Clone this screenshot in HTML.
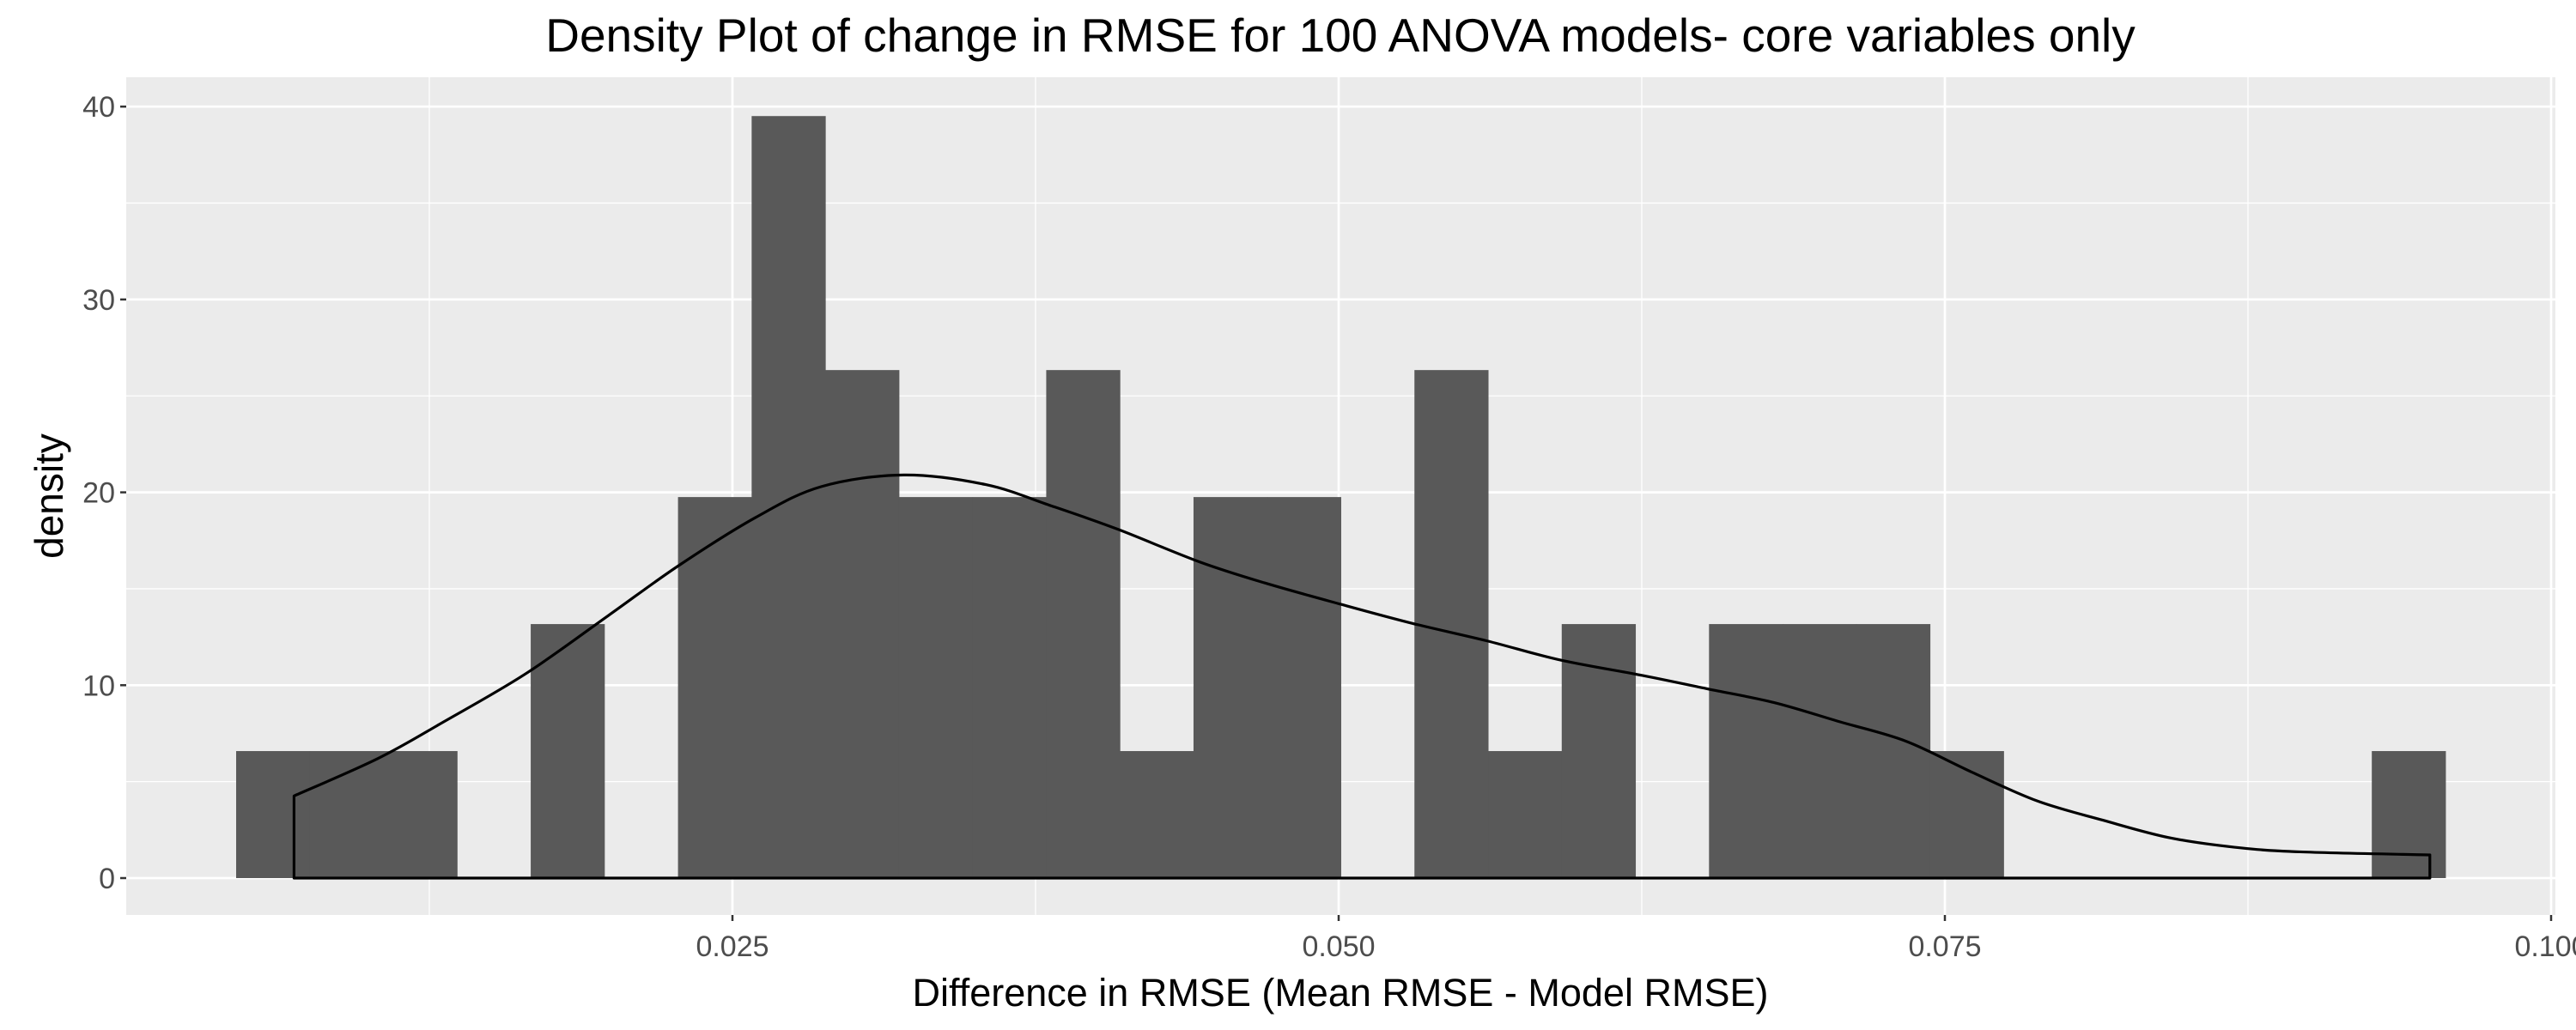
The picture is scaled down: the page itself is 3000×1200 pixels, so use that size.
<!DOCTYPE html>
<html><head><meta charset="utf-8"><style>
html,body{margin:0;padding:0;background:#fff;}
svg{display:block;font-family:"Liberation Sans",Arial,sans-serif;}
</style></head><body>
<svg id="chart" width="3000" height="1200" viewBox="0 0 3000 1200">
<rect width="3000" height="1200" fill="#fff"/>
<text x="1561" y="60" text-anchor="middle" font-size="55" fill="#000">Density Plot of change in RMSE for 100 ANOVA models- core variables only</text>
<rect x="147" y="90" width="2829" height="976" fill="#ebebeb"/>
<g id="grid"></g>
<g id="bars"></g>
<g id="curve"></g>
<g id="axes"></g>
<text x="1561" y="1172" text-anchor="middle" font-size="45" fill="#000">Difference in RMSE (Mean RMSE - Model RMSE)</text>
<text transform="translate(73,578) rotate(-90)" text-anchor="middle" font-size="46" fill="#000">density</text>
</svg>
<script>
const binStart = 0.004533;
const binWidth = 0.003037;
const binDensity = [6.585,6.585,6.585,0,13.17,0,19.755,39.51,26.34,19.755,19.755,26.34,6.585,19.755,19.755,0,26.34,6.585,13.17,0,13.17,13.17,13.17,6.585,0,0,0,0,0,6.585];
const curveX = [0.00692,0.01038,0.01309,0.01648,0.01987,0.02278,0.02596,0.02867,0.03206,0.03545,0.03815,0.04086,0.04425,0.04696,0.05008,0.05306,0.05611,0.05916,0.06255,0.06525,0.06796,0.07068,0.07339,0.07610,0.07881,0.08152,0.08423,0.08694,0.08964,0.09500];
const curveY = [4.26,6.2,8.1,10.6,13.6,16.2,18.7,20.3,20.9,20.4,19.3,18.1,16.4,15.3,14.2,13.2,12.3,11.3,10.5,9.8,9.1,8.1,7.1,5.5,4.0,3.0,2.1,1.6,1.36,1.2];
const xTicks = [0.025,0.05,0.075,0.1];
const xTickLabels = ["0.025","0.050","0.075","0.100"];
const xMinor = [0.0125,0.0375,0.0625,0.0875];
const yTicks = [0,10,20,30,40];
const yMinor = [5,15,25,35];

const NS="http://www.w3.org/2000/svg";
function xs(v){return 853+(v-0.025)*28240;}
function ys(v){return 1023-v*22.47;}
function mk(tag,attrs,parent){const e=document.createElementNS(NS,tag);for(const k in attrs)e.setAttribute(k,attrs[k]);parent.appendChild(e);return e;}
const grid=document.getElementById('grid'),bars=document.getElementById('bars'),curve=document.getElementById('curve'),axes=document.getElementById('axes');
yMinor.forEach(v=>{const l=mk('line',{x1:147,x2:2976,y1:ys(v),y2:ys(v),stroke:'#fff','stroke-width':1.3},grid);

});
xMinor.forEach(v=>{const l=mk('line',{x1:xs(v),x2:xs(v),y1:90,y2:1066,stroke:'#fff','stroke-width':1.3},grid);

});
yTicks.forEach(v=>{const l=mk('line',{x1:147,x2:2976,y1:ys(v),y2:ys(v),stroke:'#fff','stroke-width':2.7},grid);


const t=mk('line',{x1:140,x2:147,y1:ys(v),y2:ys(v),stroke:'#333','stroke-width':2.5},axes);


const tx=mk('text',{x:134,y:ys(v)+12,'text-anchor':'end','font-size':34,fill:'#4d4d4d'},axes);tx.textContent=String(v);

});
xTicks.forEach((v,i)=>{const l=mk('line',{x1:xs(v),x2:xs(v),y1:90,y2:1066,stroke:'#fff','stroke-width':2.7},grid);


const t=mk('line',{x1:xs(v),x2:xs(v),y1:1066,y2:1073,stroke:'#333','stroke-width':2.5},axes);


const tx=mk('text',{x:xs(v),y:1114,'text-anchor':'middle','font-size':34,fill:'#4d4d4d'},axes);tx.textContent=xTickLabels[i];

});
binDensity.forEach((d,i)=>{if(d<=0)return;const x0=xs(binStart+i*binWidth),x1=xs(binStart+(i+1)*binWidth);
const r=mk('rect',{x:x0,y:ys(d),width:x1-x0+0.5,height:ys(0)-ys(d),fill:'#595959'},bars);

});
const pts=curveX.map((x,i)=>[xs(x),ys(curveY[i])]);
let p='M'+xs(curveX[0])+','+ys(0)+' L'+pts[0][0]+','+pts[0][1];
for(let i=0;i<pts.length-1;i++){
  const p0=pts[Math.max(0,i-1)],p1=pts[i],p2=pts[i+1],p3=pts[Math.min(pts.length-1,i+2)];
  const c1=[p1[0]+(p2[0]-p0[0])/6,p1[1]+(p2[1]-p0[1])/6];
  const c2=[p2[0]-(p3[0]-p1[0])/6,p2[1]-(p3[1]-p1[1])/6];
  p+=' C'+c1[0]+','+c1[1]+' '+c2[0]+','+c2[1]+' '+p2[0]+','+p2[1];
}
p+=' L'+xs(curveX[curveX.length-1])+','+ys(0)+' Z';
const path=mk('path',{d:p,fill:'none',stroke:'#000','stroke-width':3.2,'stroke-linejoin':'round'},curve);


</script>
</body></html>
